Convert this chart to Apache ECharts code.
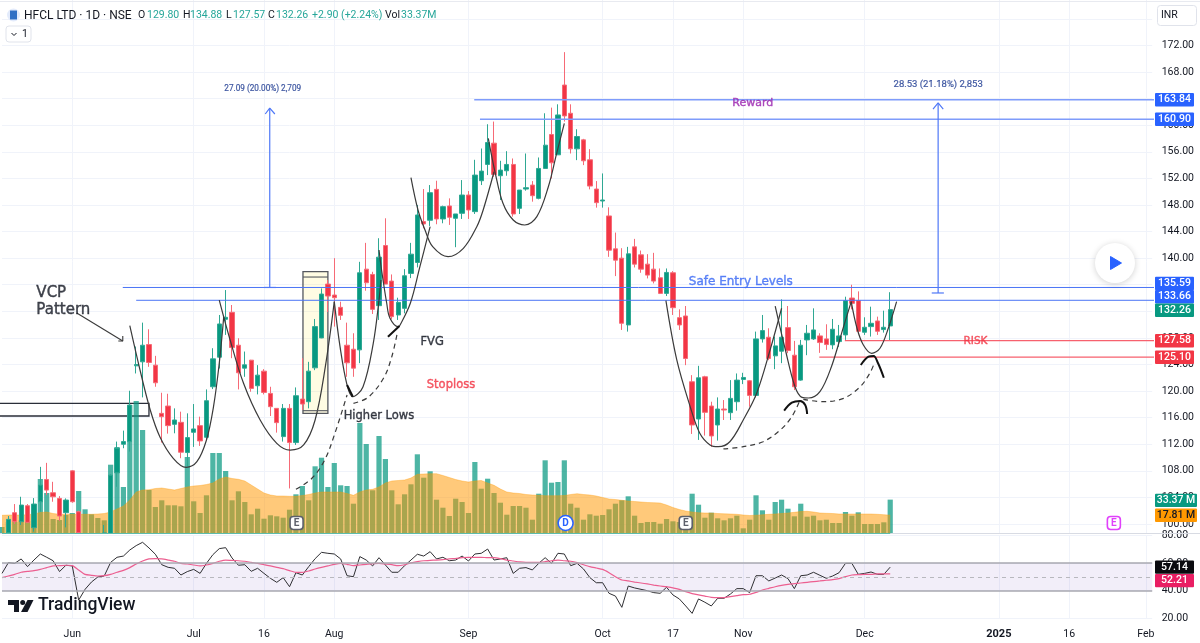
<!DOCTYPE html>
<html>
<head>
<meta charset="utf-8">
<title>HFCL LTD</title>
<style>
html,body{margin:0;padding:0;background:#fff;}
#canvas{width:1200px;height:643px;}
</style>
<script src="https://cdn.jsdelivr.net/npm/echarts@6/dist/echarts.min.js"></script>
</head>
<body>
<div id="canvas"></div>
<script>
// time axis: one slot per session, the tail is the empty future part of the chart
var slotCount = 181;
var tickSlots = [11,30,41,52,73,94,105,116,135,156,167,179];
var tickNames = ['Jun','Jul','16','Aug','Sep','Oct','17','Nov','Dec','2025','16','Feb'];

// daily candles, null = session hidden below the price pane
var opens = [null,98.7,101.7,100.35,102.75,99.45,103.35,106.7,104.7,103.85,101.7,108,101.85,null,null,null,98.6,98.6,107.7,112,
112.4,123.8,124.4,127,123.9,116.65,117.75,115,115.3,110.75,113.8,114.8,113.05,120.65,125.1,130.8,131.85,126.9,123.45,124.65,
120.8,123,119.65,117.4,113.15,117.4,112.25,118.8,118.4,123.5,128,136.1,134.45,132.6,126.9,126.3,126.2,138.35,137.55,132.85,
141.9,136.55,131.45,132.45,137.7,139.35,145.5,145.7,150.35,145.9,147.85,146,146.75,149.5,147,151.65,154.1,157.3,152.4,153.15,
154.1,147.5,150.4,151,149,153.5,158.6,155.55,166.05,161.8,156.45,157.8,154.8,150.4,148.6,146.35,141.4,140,129.95,141.7,
140.5,139.1,138.35,137.05,134.7,137.8,131.05,131.3,121.4,115.8,122.15,117.75,114.9,117.3,116.75,118.4,121.75,121.55,119.35,127.85,
128.1,125.3,126,129.55,125.4,121.65,127.7,127.85,128.3,127.85,126.95,127.45,128.45,134,133.6,128.85,129.7,130.55,129.25,129.8];
var closes = [null,100.7,100.35,102.85,100.25,103,105.85,105.1,104.1,101.2,103.6,103.35,98.7,null,null,null,98.65,107.35,111.4,112.4,
117.9,124,126.9,124.3,121.25,116.15,114.8,115.65,110.8,113,114.3,112.5,118.55,124.85,130.1,131.1,126.55,122.75,123.95,120.4,
122.4,119.8,117.65,115.25,117.4,112.25,119.3,118.05,123,129.7,134.6,134.3,134.05,131.4,124.25,123.45,137.8,136.3,132.3,140.15,
136.1,131.2,133.35,137.35,140.6,146.5,145.15,149.85,145.9,147.75,146.15,146.65,149.5,147.25,152.5,153.1,157.4,152.6,153.25,154.1,
146.65,150.25,150.6,149.4,153.5,157,154.35,161.55,161.4,156.45,158.3,154.65,150.85,148.35,148.75,141.2,139.7,130.2,140.65,139.1,
138.35,137.45,136.55,134.7,137.85,132.55,129.95,124.9,114.9,122,116.8,113.25,117.3,117.15,118.9,121.65,122.05,119.35,127.85,129.1,
124.9,126.8,128.1,126.1,120.65,126.9,128.7,129.2,127.3,127,129.3,128.3,133.6,133.2,129,129.6,130.2,129,129.6,132.26];
var lows = [null,98.6,100,99.85,100.15,98.85,101.85,104.35,103.35,100.45,99.5,103.2,98.6,null,null,null,98.6,98.6,105.6,111.4,
110.9,122.65,119.05,123.65,120.65,112.25,113.6,113.65,109.9,108.7,111.6,111.75,112.65,120.3,123.4,128.45,124.95,120.25,122.15,119.9,
119.5,119.5,116.25,113.75,112.4,105.35,111.9,117.15,117.4,123.15,127.95,131.9,129.7,130.7,122.15,122.15,124.2,135.1,131.6,130.7,
136.1,130.8,130.7,131.7,137,138.6,144.5,144.85,145.1,145.25,145,141.65,145.9,145.9,146.65,151,152.5,152.25,148.75,152.4,
146.25,146.65,150.15,148.5,148.85,153.5,152,155.55,160.55,155.75,154.75,154,150.35,147.6,147.6,140.2,137.3,129.2,128.95,138.6,
137.8,136.95,136.2,134.6,134.3,131.45,129.2,123.9,113.55,112.65,113.3,111.6,112.55,115.65,115.65,117.05,121.05,117.65,119.05,127.3,
124.65,123.3,124.2,125.7,120.15,121.55,125.4,127.7,125.75,126.2,126.3,126.65,127.7,132.3,128.7,128.45,128.2,128.45,128.8,127.57];
var highs = [null,101.2,103,104.1,103,103.9,108.6,109.2,106.35,104.2,103.85,108.1,102,null,null,null,99.85,107.5,112.4,114.05,
120.05,126.7,130.3,129.3,125.3,119.75,119.6,117.4,116.9,116.65,118.05,116.15,120.25,126.45,131.45,135.2,132.95,127.95,125.95,124.7,
123.9,123.3,120.65,117.4,118.05,118.05,120.55,124.95,124.4,130.85,135.45,136.7,140,133.45,130.3,128.7,139.45,142.3,137.95,143,
146,137.55,134.05,138.35,142.3,148,150.4,151,151.65,147.9,149,146.65,151.75,150.1,154.8,156.5,160.15,160.55,154.65,156.1,
155,150.25,155.75,151.6,155.15,161.8,162.65,163.15,171,163.15,159.4,157.95,156.4,151.6,152.75,147.65,143.85,141.5,141.7,142.9,
141.15,140.6,140.8,138.45,138.45,138.05,132.3,132.8,122.4,123.8,122.3,118.4,119.05,118.65,121.65,122.65,122.75,121.65,128.95,131.45,
129.45,128.2,133.8,132.8,127.55,127.7,129.95,132.45,128.7,130.05,130.85,129.95,134.2,136,135,131.1,132.7,131.2,132.1,134.88];

// volume in millions and its moving average
var volumes = [6,11,11,12.7,12,14,54,40,14,13,18,20,42,23.7,18.7,15,12.7,68.3,86,46,
128,132,103,43,26,32.7,27.7,27.7,26.7,76,31.7,20,37.7,80,80,62,32.7,41.7,31,18.7,
24.3,14.3,17.7,16.7,15.3,23.3,38.7,47,32.7,66.7,75.3,46,70,47.7,47,29.3,110,89,42.7,97,
74,42.7,28.7,38.7,48.7,78.7,55.3,61.7,33.3,25.3,17,34.3,31,20,71,44.3,54.3,40,30.3,18.3,
27,27,25.3,13.3,39.3,72.7,50.3,51,72.7,29.3,25.3,13.3,18.7,17.3,18,23.7,29.3,32.7,36.7,17.3,
10,11,11,9.3,14,11.7,11,11,39.3,28.3,15.3,20.3,14.7,12.7,14.7,17.3,4.7,13.3,37.7,22.7,
13.3,31,33.3,24.3,16.7,29.3,16.3,17.3,12.7,13.3,10,10,21,17.3,20.7,9,9,9,10.7,33.37];
var volumeMa = [17.7,18,18,18,18.3,19,20.5,21,19.5,18.7,18.7,18.7,18.7,18.7,18.7,19,19.5,21,24,27,
33,41,43,43.3,44.5,45,44,43,44.5,46,47,47.5,48.5,50,54,56,54.5,53.7,52,48,
44,40,38,37,37,36.7,36.7,37.5,38.5,40,41,41,41,41,39.5,37.7,41,43,43.7,46,
50,52,52.5,53,55,58.7,59,59.3,59.3,57.5,55.5,53.5,52,51,52,52.5,50,47.7,44,41,
40,39.5,38.5,38,37.7,37.3,37.3,37.3,37.5,38.5,39.3,38.5,38,37,35.5,34,33.5,32.7,32,31.5,
31,30.5,30.3,30,28,25.5,23.5,22,21,20.3,20,20,19.5,19.2,19,18.7,18,17.5,17.8,18.2,
18.7,19,19.5,20,20.7,21.5,21.7,21,20,19.7,19.5,19,19,19,19,19,19,18.7,18.3,17.81];

// RSI and its average
var rsi = [52.6,60.4,59.9,63.1,57.5,62.3,66.7,64.3,61.8,53.9,58.5,58,33.2,41,46.3,50,50.7,60.6,64.3,65.2,
69.6,72.8,75.2,71.1,66.5,58.9,57,56.3,51.4,53.9,55.5,52.6,59.9,66.2,70.6,71.3,63.8,58.5,58.9,54.1,
56.3,52.6,49,46.1,49.5,42.9,53.1,51.4,57.5,63.3,67.9,67.2,66.7,63.1,50.9,50.2,64.8,62.3,58,64,
58.7,53.4,53.4,58.2,62.3,66.5,65.2,68.4,63.1,64.3,61.8,62.3,65.2,61.6,66.7,67.2,70.3,62.3,63.1,64,
52.6,56.3,56.8,55.1,59.9,64,59.9,67.2,66.7,58.2,59.9,55.8,49.5,45.8,45.8,38.1,36.1,27.9,43.4,42,
41,40,38.6,38.1,42.5,36.9,34,28.9,23.5,34,31.6,28.9,34.5,34.5,37.6,41.5,41.5,38.6,50.9,50.9,
47.1,49.2,51.4,48.8,41.5,50.9,51.4,53.4,51.2,49,50.7,53.1,59.9,59.9,51.9,52.6,53.6,51.9,51.9,57.14];
var rsiMa = [49.5,50.7,51.9,53.4,54.1,54.6,55.5,56.8,58,58.2,58.5,58.2,55.1,51.9,51.2,50.7,50.9,51.9,53.4,54.8,
56.8,59.4,61.6,63.1,63.3,63.1,62.3,61.4,59.9,59.4,58.7,58,58.7,59.9,61.4,62.3,62.1,61.8,61.4,60.6,
59.9,58.9,58,57,56,54.6,53.4,53.4,54.3,55.8,57,58,59.2,59.9,59.2,58.2,58.7,59.2,59.7,59.9,
59.4,58.9,58.2,58.9,60.2,61.1,61.8,62.1,62.3,62.6,63.1,63.5,64,64.3,64.3,64.3,64,64,63.3,62.3,
61.6,60.9,60.6,60.6,60.6,61.1,61.8,62.3,61.8,61.4,60.4,58.9,57.5,56.5,55.5,53.1,50.2,47.8,47.1,46.3,
45.6,44.9,44.1,43.4,42.9,42,41,39.3,37.9,36.9,36.1,35.2,34.9,34.9,35.7,36.4,37.1,37.4,38.8,40.5,
41.7,42.9,43.9,44.6,45.1,45.6,46.1,46.6,47.1,47.6,48,48.8,50.2,51.4,51.7,51.9,51.9,52.2,52.2,52.21];

// drawings, every point is [bar, price]
var rewardLevels = [[[73.9,163.84],[180.3,163.84]],[[74.8,160.9],[180.3,160.9]]];
var entryLevels = [[[18.9,135.59],[180.3,135.59]],[[21,133.66],[180.3,133.66]]];
var redLevels = [[[131.9,127.58],[180.3,127.58]],[[127.9,125.1],[180.3,125.1]]];
var measures = [
  [[41,135.59],[42.9,135.59]],[[41.9,135.59],[41.9,162.59]],[[41.2,161.69],[41.9,162.59],[42.7,161.69]],
  [[145.5,134.76],[147.4,134.76]],[[146.5,134.76],[146.5,163.35]],[[145.7,162.44],[146.5,163.35],[147.3,162.44]]
];
var cups = [
  [[20,129.84],[21.6,123.17],[23.2,117.15],[24.7,113.14],[26.8,109.89],[28.8,108.53],[30.5,109.37],[32,112.64],[33.1,117.65],[34,124.18],[34.7,131.19]],
  [[34,133.7],[35.7,127.69],[37.8,121.17],[40.4,115.65],[43,112.14],[45.1,111.13],[47.2,111.89],[49,115.65],[50.6,123.67],[52,133.45]],
  [[52,133.45],[52.9,126.68],[54,120.91],[54.9,119.15],[56.5,120.66],[58.1,127.19],[59,133.7],[59.3,136.71]],
  [[59,141.23],[59.4,138.22],[60.2,133.25],[60.7,131],[62,129.69],[62.3,129.94],[63.9,133.21],[65.4,138.72],[67,144.73]],
  [[64,152.11],[65.1,147.25],[66.2,144.24],[67.4,141.72],[69.8,140.22],[72.2,141.48],[74.3,144.73],[75.3,147.25],[77,153]],
  [[76.1,158.04],[77.2,152.77],[78.4,148.25],[80,145.74],[81.8,144.99],[83.7,146.24],[85.5,150.75],[86.8,155.78],[88,160.29]],
  [[103.9,133.6],[105.6,124.68],[107.7,117.65],[109.2,113.65],[110.8,111.89],[112.1,111.63],[113.9,112.38],[116,115.65],[118.1,119.67],[120.2,126.18],[122,132.46]],
  [[121,132.8],[122.6,126.18],[124.1,120.66],[125.2,119.06],[126.2,118.96],[128,119.91],[129.8,123.67],[131.7,129.69],[132.9,133.45]],
  [[132.9,133.45],[133.8,129.45],[134.8,126.93],[136.1,125.68],[137.4,126.44],[138.7,129.45],[140,133.45]]
];
var boldMarks = [
  [[122.4,117.05],[123.6,118.25],[124.9,118.51],[125.7,117.9],[126,116.55]],
  [[134.4,123.92],[135.6,125.17],[136.4,125.28],[137.1,124.18],[138,122.01]],
  [[60.4,128.18],[62.2,129.79]],
  [[54,120.91],[54.9,119.15]]
];
var dashedLows = [
  [[46,105.22],[48.5,106.88],[50.5,109.63],[52.1,113.65],[54,119.41]],
  [[55,118.16],[57.3,119.06],[59.7,121.92],[61,125.17],[61.9,128.94]],
  [[112.9,111.29],[116,111.63],[119.1,112.38],[121.8,114.14],[123.6,116.15],[124.9,118.66]],
  [[125.4,118.76],[128.5,118.4],[131.7,118.91],[134.3,120.66],[135.8,122.67],[136.4,123.92]]
];
var pointer = [[[11.7,131.75],[18.9,127.54]],[[18.2,127.54],[18.9,127.54],[18.9,128.29]]];
var boxInner = [[[47.1,137.16],[51,137.16]],[[47.1,117.05],[51,117.05]]];
// [bar0, price0, bar1, price1]
var boxes = [[-1,118.16,23,116.25],[47.1,137.96,51,116.66]];
var boxFills = ['rgba(0,0,0,0)','rgba(255,235,59,0.14)'];
var boxStrokes = ['#2a2e39','#55585f'];

var noteTexts = ['VCP\nPattern','FVG','Higher Lows','Stoploss','Safe Entry Levels','Reward','RISK'];
var noteBars = [5.3,65.4,53.4,66.4,107.4,114.2,150.4];
var notePrices = [133.4,127.38,116.25,120.91,136.41,163.35,127.53];
var noteColors = ['#131722','#131722','#131722','#f23645','#3d6cf5','#9c27b0','#f23645'];
var noteSizes = [15,11.5,11.5,11.5,12,11,10.5];

var measureTexts = ['27.09 (20.00%) 2,709','28.53 (21.18%) 2,853'];
var measureBars = [40.8,146.5];
var measurePrices = [165.45,166.05];
var measureSizes = [8.2,9.5];

var badgeTexts = ['E','D','E','E'];
var badgeBars = [46.1,88.2,107,174];
var badgeColors = ['#5d606b','#2962ff','#5d606b','#e040fb'];
var badgePrice = 100.15;

// right hand price tags
var tagTexts = ['163.84','160.90','135.59','133.66','132.26','127.58','125.10'];
var tagValues = [163.84,160.9,135.59,133.66,132.26,127.58,125.1];
var tagColors = ['#2962ff','#2962ff','#2962ff','#2962ff','#089981','#f23645','#f23645'];
var tagNudge = [0,0,-4,-3.5,0.7,0,0];

var UP = '#089981', DOWN = '#f23645', GRID = '#f0f3fa', FONT = 'Roboto';

function isTick(i){ return tickSlots.indexOf(i) >= 0; }

function categories(){
  var out = [];
  for (var i = 0; i < slotCount; i++) out.push(String(i));
  return out;
}

function candleRows(){
  return opens.map(function(o, i){
    return o === null ? ['-','-','-','-'] : [o, closes[i], lows[i], highs[i]];
  });
}

// one line series per drawing, all on the hidden bar-number axis
function drawing(pts, color, width, dash, smooth){
  return {
    type: 'line', xAxisIndex: 3, yAxisIndex: 0, data: pts, showSymbol: false, symbol: 'none',
    smooth: smooth ? 0.35 : false, clip: false, silent: true, z: 6,
    lineStyle: {color: color, width: width, type: dash || 'solid'}
  };
}

function catAxis(gridIndex, showLabel){
  return {
    type: 'category', gridIndex: gridIndex, data: categories(), boundaryGap: false,
    axisLine: {show: false}, axisTick: {show: false},
    splitLine: {show: true, interval: function(i){ return isTick(i); }, lineStyle: {color: GRID, width: 1}},
    axisLabel: {
      show: showLabel, interval: function(i){ return isTick(i); }, margin: 11,
      color: '#131722', fontFamily: FONT, fontSize: 10.5,
      formatter: function(v, i){
        var name = tickNames[tickSlots.indexOf(i)];
        return name === '2025' ? '{y|2025}' : name;
      },
      rich: {y: {fontWeight: 'bold', fontFamily: FONT, fontSize: 11, color: '#131722'}}
    }
  };
}

function buildSeries(){
  var list = [];

  list.push({
    type: 'custom', xAxisIndex: 3, yAxisIndex: 0, z: 1, silent: true, data: boxes,
    encode: {x: [0, 2], y: [1, 3]},
    renderItem: function(params, api){
      var a = api.coord([api.value(0), api.value(1)]);
      var b = api.coord([api.value(2), api.value(3)]);
      return {type: 'rect', shape: {x: a[0], y: a[1], width: b[0]-a[0], height: b[1]-a[1]},
        style: {fill: boxFills[params.dataIndex], stroke: boxStrokes[params.dataIndex], lineWidth: 1.3}};
    }
  });

  list.push({
    name: 'Vol', type: 'bar', xAxisIndex: 1, yAxisIndex: 1, data: volumes, barWidth: 5.2, clip: false, z: 2, silent: true,
    itemStyle: {color: 'rgba(8,153,129,0.72)'},
    markLine: {silent: true, symbol: 'none', label: {show: false}, lineStyle: {color: '#5dbcab', width: 1, type: 'solid'},
      data: [[{coord: [0, 0]}, {coord: [139, 0]}]]}
  });
  list.push({
    name: 'Vol MA', type: 'line', xAxisIndex: 1, yAxisIndex: 1, data: volumeMa, showSymbol: false, symbol: 'none', z: 3, silent: true,
    lineStyle: {color: 'rgba(255,152,0,0.35)', width: 1},
    areaStyle: {color: 'rgba(255,152,0,0.52)', opacity: 1}
  });

  list.push({
    name: 'HFCL', type: 'candlestick', xAxisIndex: 0, yAxisIndex: 0, data: candleRows(), barWidth: 4.8, clip: false, z: 4, silent: true,
    itemStyle: {color: UP, color0: DOWN, borderColor: '#2fa893', borderColor0: '#f66a76', borderWidth: 1}
  });

  rewardLevels.forEach(function(p){ list.push(drawing(p, '#7f9cfb', 1.6)); });
  entryLevels.forEach(function(p){ list.push(drawing(p, '#4a74f5', 1)); });
  redLevels.forEach(function(p){ list.push(drawing(p, '#f7616e', 1.2)); });
  measures.forEach(function(p){ list.push(drawing(p, '#4f78f7', 1.2)); });
  cups.forEach(function(p){ list.push(drawing(p, '#3a3a3a', 1.2, null, true)); });
  boldMarks.forEach(function(p){ list.push(drawing(p, '#111111', 2, null, true)); });
  dashedLows.forEach(function(p){ list.push(drawing(p, '#3a3a3a', 1.2, [5, 4], true)); });
  pointer.forEach(function(p){ list.push(drawing(p, '#3a3a3a', 1.1)); });
  boxInner.forEach(function(p){ list.push(drawing(p, '#55585f', 1.1)); });

  // annotation text
  list.push({
    type: 'scatter', xAxisIndex: 3, yAxisIndex: 0, symbolSize: 1, clip: false, z: 7, silent: true,
    itemStyle: {color: 'rgba(0,0,0,0)'},
    data: noteTexts.map(function(t, i){
      return {value: [noteBars[i], notePrices[i]], label: {
        show: true, position: 'right', distance: 0, formatter: t, color: noteColors[i], fontSize: noteSizes[i],
        fontFamily: 'DejaVu Sans', lineHeight: 17, align: 'left',
        textBorderColor: noteColors[i], textBorderWidth: 0.4
      }};
    })
  });
  list.push({
    type: 'scatter', xAxisIndex: 3, yAxisIndex: 0, symbolSize: 1, clip: false, z: 7, silent: true,
    itemStyle: {color: 'rgba(0,0,0,0)'},
    data: measureTexts.map(function(t, i){
      return {value: [measureBars[i], measurePrices[i]], label: {
        show: true, position: 'inside', formatter: t, color: '#16348f', fontSize: measureSizes[i], fontFamily: FONT,
        textBorderColor: '#16348f', textBorderWidth: 0.2
      }};
    })
  });

  // earnings and dividend markers
  list.push({
    type: 'scatter', xAxisIndex: 3, yAxisIndex: 0, clip: false, z: 8, silent: true,
    data: badgeTexts.map(function(t, i){
      return {
        value: [badgeBars[i], badgePrice],
        symbol: t === 'D' ? 'circle' : 'roundRect',
        symbolSize: t === 'D' ? 15 : 13,
        itemStyle: {color: '#fff', borderColor: badgeColors[i], borderWidth: 1.6, opacity: 1},
        label: {show: true, position: 'inside', formatter: t, color: badgeColors[i], fontSize: 10, fontFamily: FONT, fontWeight: 'bold'}
      };
    })
  });

  // RSI pane
  list.push({
    name: 'RSI', type: 'line', xAxisIndex: 2, yAxisIndex: 2, data: rsi, showSymbol: false, symbol: 'none', z: 4, silent: true,
    lineStyle: {color: '#2f2f33', width: 1},
    markArea: {silent: true, itemStyle: {color: 'rgba(126,87,194,0.1)'}, data: [[{yAxis: 60}, {yAxis: 40}]]},
    markLine: {silent: true, symbol: 'none', label: {show: false}, data: [
      {yAxis: 60, lineStyle: {color: '#a9a9b0', width: 1.5, type: 'solid'}},
      {yAxis: 50, lineStyle: {color: '#b8b8be', width: 1, type: [4, 4]}},
      {yAxis: 40, lineStyle: {color: '#a9a9b0', width: 1.5, type: 'solid'}}
    ]}
  });
  list.push({
    name: 'RSI MA', type: 'line', xAxisIndex: 2, yAxisIndex: 2, data: rsiMa, showSymbol: false, symbol: 'none', smooth: 0.2, z: 4, silent: true,
    lineStyle: {color: '#ec5f90', width: 1.2}
  });
  return list;
}

function textEl(x, y, text, color, size, weight, align){
  return {type: 'text', z: 100, x: x, y: y, silent: true,
    style: {text: text, fill: color, fontSize: size, fontFamily: FONT, fontWeight: weight || 'normal',
      textAlign: align || 'left', textVerticalAlign: 'middle', verticalAlign: 'middle'}};
}

function tagEl(cy, text, bg, fg, width){
  return {type: 'group', z: 100, children: [
    {type: 'rect', z: 100, silent: true, shape: {x: 1155, y: cy-6.7, width: width, height: 13.4, r: 1}, style: {fill: bg}},
    {type: 'text', z: 101, silent: true, x: 1155+width/2, y: cy,
      style: {text: text, fill: fg, fontSize: 10.5, fontFamily: FONT, fontWeight: 500, textAlign: 'center', verticalAlign: 'middle'}}
  ]};
}

function chromeGraphics(chart){
  var g = [];
  var HEAD = '#26a69a';

  // pane borders
  g.push({type: 'line', z: 2, silent: true, shape: {x1: 0, y1: 1.5, x2: 1200, y2: 1.5}, style: {stroke: '#e8eaf0', lineWidth: 1}});
  g.push({type: 'line', z: 2, silent: true, shape: {x1: 0, y1: 533.5, x2: 1200, y2: 533.5}, style: {stroke: '#d8dbe3', lineWidth: 1}});

  // header
  g.push({type: 'circle', z: 100, silent: true, shape: {cx: 13.5, cy: 15, r: 6.5}, style: {fill: '#e3ebfb'}});
  g.push({type: 'rect', z: 101, silent: true, shape: {x: 10, y: 10.5, width: 7, height: 9}, style: {fill: '#2f6fc4'}});
  g.push(textEl(24, 15.5, 'HFCL LTD · 1D · NSE', '#131722', 12, 400));
  g.push(textEl(138, 15.5, 'O', '#131722', 10.5));
  g.push(textEl(147, 15.5, '129.80', HEAD, 10.5));
  g.push(textEl(183, 15.5, 'H', '#131722', 10.5));
  g.push(textEl(190, 15.5, '134.88', HEAD, 10.5));
  g.push(textEl(226, 15.5, 'L', '#131722', 10.5));
  g.push(textEl(233, 15.5, '127.57', HEAD, 10.5));
  g.push(textEl(268, 15.5, 'C', '#131722', 10.5));
  g.push(textEl(276, 15.5, '132.26', HEAD, 10.5));
  g.push(textEl(312, 15.5, '+2.90 (+2.24%)', HEAD, 10.5));
  g.push(textEl(385, 15.5, 'Vol', '#131722', 10.5));
  g.push(textEl(401, 15.5, '33.37M', HEAD, 10.5));

  // legend toggle and currency button
  g.push({type: 'rect', z: 100, silent: true, shape: {x: 6, y: 26, width: 25, height: 16, r: 3}, style: {fill: '#fff', stroke: '#e0e3eb', lineWidth: 1}});
  g.push({type: 'polyline', z: 101, silent: true, shape: {points: [[11.5,33],[14,35.5],[16.5,33]]}, style: {fill: 'none', stroke: '#131722', lineWidth: 1}});
  g.push(textEl(22, 34.5, '1', '#131722', 10.5));
  g.push({type: 'rect', z: 100, silent: true, shape: {x: 1157.5, y: 5.5, width: 39, height: 20, r: 3}, style: {fill: '#fff', stroke: '#e0e3eb', lineWidth: 1}});
  g.push(textEl(1161, 15.5, 'INR', '#131722', 10.5));

  // play button
  g.push({type: 'circle', z: 100, silent: true, shape: {cx: 1115, cy: 263, r: 20},
    style: {fill: '#fff', shadowBlur: 6, shadowColor: 'rgba(0,0,0,0.18)', shadowOffsetY: 1}});
  g.push({type: 'polygon', z: 101, silent: true, shape: {points: [[1110.5,256.5],[1121.5,263],[1110.5,269.5]]},
    style: {fill: '#2962ff', stroke: '#2962ff', lineWidth: 1, lineJoin: 'round'}});

  // TradingView logo
  g.push({type: 'polygon', z: 100, silent: true, shape: {points: [[8,600],[19,600],[19,612],[14,612],[14,605],[8,605]]}, style: {fill: '#131722'}});
  g.push({type: 'circle', z: 100, silent: true, shape: {cx: 22.7, cy: 602.5, r: 2.5}, style: {fill: '#131722'}});
  g.push({type: 'polygon', z: 100, silent: true, shape: {points: [[27.5,600],[33.5,600],[27.5,612],[21,612]]}, style: {fill: '#131722'}});
  g.push(textEl(38, 606, 'TradingView', '#131722', 17.5, 500));

  // price tags
  tagValues.forEach(function(v, i){
    var y = chart.convertToPixel({yAxisIndex: 0}, v) + tagNudge[i];
    g.push(tagEl(y, tagTexts[i], tagColors[i], '#fff', 39));
  });
  g.push(tagEl(chart.convertToPixel({yAxisIndex: 1}, 33.37) + 0.7, '33.37 M', UP, '#fff', 42));
  g.push(tagEl(chart.convertToPixel({yAxisIndex: 1}, 17.81), '17.81 M', '#ff9800', '#131722', 42));
  g.push(tagEl(chart.convertToPixel({yAxisIndex: 2}, 57.14), '57.14', '#0b0b0f', '#fff', 39));
  g.push(tagEl(chart.convertToPixel({yAxisIndex: 2}, 52.21) + 6.7, '52.21', '#e91e63', '#fff', 39));
  return g;
}

var myChart = echarts.init(document.getElementById('canvas'));

var option = {
  animation: false,
  backgroundColor: '#fff',
  grid: [
    {left: 2, right: 47.8, top: -7.68, height: 531.68, outerBoundsMode: 'none'},
    {left: 2, right: 47.8, top: 333, height: 200, outerBoundsMode: 'none'},
    {left: 2, right: 47.8, top: 535.7, height: 82.5, outerBoundsMode: 'none'}
  ],
  xAxis: [
    catAxis(0, false),
    catAxis(1, false),
    catAxis(2, true),
    {type: 'value', gridIndex: 0, min: 0, max: 180, show: false}
  ],
  yAxis: [
    {
      type: 'value', gridIndex: 0, position: 'right', min: 100, max: 180, interval: 4,
      axisLine: {show: false}, axisTick: {show: false},
      splitLine: {lineStyle: {color: GRID, width: 1}},
      axisLabel: {margin: 9.5, color: '#131722', fontFamily: FONT, fontSize: 10.5,
        formatter: function(v){ return v > 172 ? '' : v.toFixed(2); }}
    },
    {type: 'value', gridIndex: 1, min: 0, max: 200, show: false},
    {
      type: 'value', gridIndex: 2, position: 'right', min: 20, max: 80, interval: 20,
      axisLine: {show: false}, axisTick: {show: false},
      splitLine: {lineStyle: {color: GRID, width: 1}},
      axisLabel: {margin: 9.5, color: '#131722', fontFamily: FONT, fontSize: 10.5,
        formatter: function(v){ return v.toFixed(2); }}
    }
  ],
  series: buildSeries()
};

myChart.setOption(option);
myChart.setOption({graphic: chromeGraphics(myChart)});
</script>
</body>
</html>
